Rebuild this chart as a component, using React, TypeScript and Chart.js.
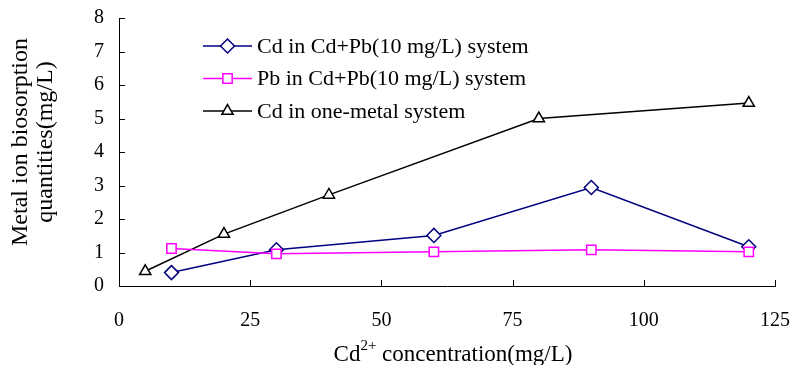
import { useEffect, useRef } from 'react';
import { Chart, registerables } from 'chart.js';
import { drawPoint } from 'chart.js/helpers';

Chart.register(...registerables);

const FONT = "'Liberation Serif', 'Times New Roman', Times, serif";

// Data
const mixConc = [10, 30, 60, 90, 120];
const cdInMix = [0.4, 1.08, 1.51, 2.94, 1.17];
const pbInMix = [1.12, 0.96, 1.02, 1.08, 1.02];
const oneConc = [5, 20, 40, 80, 120];
const cdOne = [0.44, 1.55, 2.72, 5.0, 5.46];

const seriesLabels = [
  'Cd in Cd+Pb(10 mg/L) system',
  'Pb in Cd+Pb(10 mg/L) system',
  'Cd in one-metal system',
];
const yTitleLines = ['Metal ion biosorption', 'quantities(mg/L)'];
const xTitleParts = ['Cd', '2+', ' concentration(mg/L)'];

const X_MIN = 0, X_MAX = 125, X_STEP = 25;
const Y_MIN = 0, Y_MAX = 8, Y_STEP = 1;

const toPts = (xs: number[], ys: number[]) => xs.map((x, i) => ({ x, y: ys[i] }));

const innerTicks = {
  id: 'innerTicks',
  afterDraw(chart: any) {
    const { ctx } = chart;
    const x = chart.scales.x;
    const y = chart.scales.y;
    ctx.save();
    ctx.strokeStyle = '#000';
    ctx.lineWidth = 1;
    x.ticks.forEach((t: any) => {
      if (t.value === X_MIN) return;
      const px = Math.round(x.getPixelForValue(t.value)) + 0.5;
      ctx.beginPath();
      ctx.moveTo(px, y.bottom);
      ctx.lineTo(px, y.bottom - 6);
      ctx.stroke();
    });
    y.ticks.forEach((t: any) => {
      if (t.value === Y_MIN) return;
      const py = Math.round(y.getPixelForValue(t.value)) + 0.5;
      ctx.beginPath();
      ctx.moveTo(x.left, py);
      ctx.lineTo(x.left + 6, py);
      ctx.stroke();
    });
    ctx.restore();
  },
};

const titles = {
  id: 'titles',
  afterDraw(chart: any) {
    const { ctx, chartArea } = chart;
    ctx.save();
    ctx.fillStyle = '#000';
    // Y title
    ctx.font = `24px ${FONT}`;
    ctx.textAlign = 'center';
    ctx.textBaseline = 'middle';
    const cy = (chartArea.top + chartArea.bottom) / 2 - 10;
    const xs = [21, 46];
    yTitleLines.forEach((line, i) => {
      ctx.save();
      ctx.translate(xs[i], cy);
      ctx.rotate(-Math.PI / 2);
      ctx.fillText(line, 0, 0);
      ctx.restore();
    });
    // X title with superscript
    const big = `23px ${FONT}`;
    const small = `15px ${FONT}`;
    ctx.textAlign = 'left';
    ctx.textBaseline = 'alphabetic';
    ctx.font = big;
    const w0 = ctx.measureText(xTitleParts[0]).width;
    const w2 = ctx.measureText(xTitleParts[2]).width;
    ctx.font = small;
    const w1 = ctx.measureText(xTitleParts[1]).width;
    const total = w0 + w1 + w2;
    const cx = (chartArea.left + chartArea.right) / 2 + 6;
    let sx = cx - total / 2;
    const base = chartArea.bottom + 75;
    ctx.font = big;
    ctx.fillText(xTitleParts[0], sx, base);
    sx += w0;
    ctx.font = small;
    ctx.fillText(xTitleParts[1], sx, base - 11);
    sx += w1;
    ctx.font = big;
    ctx.fillText(xTitleParts[2], sx, base);
    ctx.restore();
  },
};

const innerLegend = {
  id: 'innerLegend',
  afterDraw(chart: any) {
    const { ctx, chartArea } = chart;
    ctx.save();
    const x0 = chartArea.left + 84;
    const lineLen = 49;
    const y0 = chartArea.top + 28;
    const gap = 32.5;
    chart.data.datasets.forEach((ds: any, i: number) => {
      const yy = y0 + i * gap;
      ctx.strokeStyle = ds.borderColor;
      ctx.lineWidth = ds.borderWidth;
      ctx.beginPath();
      ctx.moveTo(x0, yy);
      ctx.lineTo(x0 + lineLen, yy);
      ctx.stroke();
      ctx.fillStyle = ds.pointBackgroundColor;
      ctx.strokeStyle = ds.borderColor;
      ctx.lineWidth = ds.pointBorderWidth;
      drawPoint(ctx, { pointStyle: ds.pointStyle, radius: ds.pointRadius, rotation: 0, borderWidth: ds.pointBorderWidth }, x0 + lineLen / 2, yy);
      ctx.fillStyle = '#000';
      ctx.font = `22px ${FONT}`;
      ctx.textAlign = 'left';
      ctx.textBaseline = 'middle';
      ctx.fillText(ds.label, x0 + lineLen + 5, yy + 1);
    });
    ctx.restore();
  },
};

export default function App() {
  const ref = useRef<HTMLCanvasElement | null>(null);
  useEffect(() => {
    document.body.style.margin = '0';
    const canvas = ref.current!;
    const chart = new Chart(canvas, {
      type: 'line',
      data: {
        datasets: [
          {
            label: seriesLabels[0],
            data: toPts(mixConc, cdInMix),
            borderColor: '#000080',
            backgroundColor: '#ffffff',
            pointBackgroundColor: '#ffffff',
            pointBorderColor: '#000080',
            borderWidth: 1.5,
            pointBorderWidth: 1.5,
            pointStyle: 'rectRot',
            pointRadius: 7,
            order: 1,
          },
          {
            label: seriesLabels[1],
            data: toPts(mixConc, pbInMix),
            borderColor: '#ff00ff',
            backgroundColor: '#ffffff',
            pointBackgroundColor: '#ffffff',
            pointBorderColor: '#ff00ff',
            borderWidth: 1.5,
            pointBorderWidth: 1.5,
            pointStyle: 'rect',
            pointRadius: 6.6,
            order: 0,
          },
          {
            label: seriesLabels[2],
            data: toPts(oneConc, cdOne),
            borderColor: '#000000',
            backgroundColor: '#ffffff',
            pointBackgroundColor: '#ffffff',
            pointBorderColor: '#000000',
            borderWidth: 1.5,
            pointBorderWidth: 1.5,
            pointStyle: 'triangle',
            pointRadius: 6.5,
            order: 2,
          },
        ],
      },
      options: {
        animation: false,
        responsive: false,
        devicePixelRatio: 1,
        layout: { padding: { top: 18, right: 16, left: 0, bottom: 0 } },
        plugins: {
          legend: { display: false },
          tooltip: { enabled: false },
        },
        scales: {
          x: {
            type: 'linear',
            min: X_MIN,
            max: X_MAX,
            ticks: { stepSize: X_STEP, color: '#000', font: { family: FONT, size: 20 }, padding: 23 },
            grid: { display: false, drawTicks: false },
            border: { display: true, color: '#000', width: 1 },
            afterFit: (s: any) => {
              s.height = 79;
              s.paddingLeft = 0;
              s.paddingRight = 0;
            },
          },
          y: {
            type: 'linear',
            min: Y_MIN,
            max: Y_MAX,
            ticks: { stepSize: Y_STEP, color: '#000', font: { family: FONT, size: 20 }, padding: 15 },
            grid: { display: false, drawTicks: false },
            border: { display: true, color: '#000', width: 1 },
            afterFit: (s: any) => {
              s.width = 119;
              s.paddingTop = 0;
              s.paddingBottom = 0;
            },
          },
        },
      },
      plugins: [innerTicks, titles, innerLegend],
    } as any);
    return () => chart.destroy();
  }, []);
  return <canvas ref={ref} width={791} height={365} style={{ display: 'block', width: 791, height: 365 }} />;
}
